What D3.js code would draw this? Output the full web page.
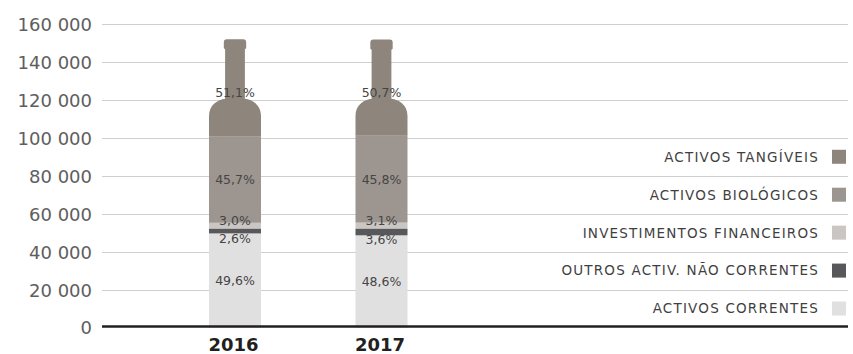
<!DOCTYPE html>
<html>
<head>
<meta charset="utf-8">
<script src="https://cdn.jsdelivr.net/npm/d3@7"></script>
<style>
  html, body { margin: 0; padding: 0; background: #fff; }
  svg { display: block; }
</style>
</head>
<body>
<svg id="chart" width="853" height="354"></svg>
<script>
// Asset structure per year (thousand €), stacked bottom to top
const years = ["2016", "2017"];
const activosCorrentes        = [49600, 48600];
const outrosNaoCorrentes      = [2600, 3600];
const investimentosFinanceiros = [3000, 3100];
const activosBiologicos       = [45700, 45800];
const activosTangiveis        = [51100, 50700];

// Percent labels shown on each segment
const pctCorrentes   = ["49,6%", "48,6%"];
const pctOutros      = ["2,6%", "3,6%"];
const pctInvest      = ["3,0%", "3,1%"];
const pctBiologicos  = ["45,7%", "45,8%"];
const pctTangiveis   = ["51,1%", "50,7%"];

const yTicks = [0, 20000, 40000, 60000, 80000, 100000, 120000, 140000, 160000];

const seriesNames = ["ACTIVOS CORRENTES", "OUTROS ACTIV. NÃO CORRENTES", "INVESTIMENTOS FINANCEIROS", "ACTIVOS BIOLÓGICOS", "ACTIVOS TANGÍVEIS"];
const seriesKeys = ["correntes", "outros", "invest", "biologicos", "tangiveis"];
const seriesColors = ["#e1e0e0", "#58585a", "#cac6c3", "#9d958f", "#8e857c"];

const rows = years.map((yr, i) => ({
  year: yr,
  correntes: activosCorrentes[i],
  outros: outrosNaoCorrentes[i],
  invest: investimentosFinanceiros[i],
  biologicos: activosBiologicos[i],
  tangiveis: activosTangiveis[i]
}));
const labels = {
  correntes: pctCorrentes, outros: pctOutros, invest: pctInvest,
  biologicos: pctBiologicos, tangiveis: pctTangiveis
};

const svg = d3.select("#chart");
const plotLeft = 102, plotRight = 848;
const font = "'DejaVu Sans', sans-serif";

const y = d3.scaleLinear().domain([0, 160000]).range([327.5, 24]);
const x = d3.scalePoint().domain(years).range([235, 381.5]);
const barW = 52;

// Gridlines
svg.append("g").selectAll("line")
  .data(yTicks.filter(t => t > 0))
  .join("line")
  .attr("x1", plotLeft).attr("x2", plotRight)
  .attr("y1", d => Math.round(y(d)) + 0.5).attr("y2", d => Math.round(y(d)) + 0.5)
  .attr("stroke", "#cfcfcf").attr("stroke-width", 1);

// Y axis labels
const yAxis = d3.axisLeft(y).tickValues(yTicks).tickSize(0).tickPadding(0)
  .tickFormat(d => d3.format(",")(d).replace(/,/g, " "));
const gy = svg.append("g").attr("transform", `translate(${92},0)`).call(yAxis);
gy.select(".domain").remove();
gy.selectAll("text")
  .attr("font-family", font).attr("font-size", 18)
  .attr("fill", "#5e5e5e").attr("dy", "0.36em");

// Stacked segments
const stack = d3.stack().keys(seriesKeys);
const layers = stack(rows);

// Top segment drawn as a wine bottle: body, shoulder, neck and lip
function bottlePath(d) {
  const cx = x(d.data.year);
  const x0 = cx - barW / 2, x1 = cx + barW / 2;
  const yB = y(d[0]), yT = y(d[1]);
  const h = yB - yT;
  const yS = yB - 0.205 * h;   // shoulder start
  const yN = yB - 0.385 * h;   // neck start
  const yL = yT + 0.105 * h;   // lip bottom
  const nw = barW * 0.19;      // neck half-width
  const lw = barW * 0.215;     // lip half-width
  const r = 3;
  const sd = yS - yN;
  return [
    `M${x0},${yB}`,
    `L${x0},${yS}`,
    `C${x0},${yS - 0.67 * sd} ${x0 + 0.55 * (cx - nw - x0)},${yN + 1} ${cx - nw},${yN}`,
    `L${cx - nw},${yL}`,
    `L${cx - lw},${yL - 1}`,
    `L${cx - lw},${yT + r}`,
    `Q${cx - lw},${yT} ${cx - lw + r},${yT}`,
    `L${cx + lw - r},${yT}`,
    `Q${cx + lw},${yT} ${cx + lw},${yT + r}`,
    `L${cx + lw},${yL - 1}`,
    `L${cx + nw},${yL}`,
    `L${cx + nw},${yN}`,
    `C${x1 - 0.55 * (x1 - cx - nw)},${yN + 1} ${x1},${yS - 0.67 * sd} ${x1},${yS}`,
    `L${x1},${yB}`,
    "Z"
  ].join(" ");
}

layers.forEach((layer, li) => {
  const g = svg.append("g");
  if (layer.key === "tangiveis") {
    g.selectAll("path").data(layer).join("path")
      .attr("d", bottlePath)
      .attr("fill", seriesColors[li]);
  } else {
    g.selectAll("rect").data(layer).join("rect")
      .attr("x", d => x(d.data.year) - barW / 2)
      .attr("width", barW)
      .attr("y", d => y(d[1]))
      .attr("height", d => y(d[0]) - y(d[1]))
      .attr("fill", seriesColors[li]);
  }
});

// Segment labels
const labelOffset = { correntes: 0, outros: 8, invest: -5, biologicos: 0, tangiveis: 5 };
layers.forEach(layer => {
  svg.append("g").selectAll("text").data(layer).join("text")
    .attr("x", d => x(d.data.year))
    .attr("y", d => (y(d[0]) + y(d[1])) / 2 + labelOffset[layer.key])
    .attr("dy", "0.36em")
    .attr("text-anchor", "middle")
    .attr("font-family", font).attr("font-size", 12.5)
    .attr("fill", "#454545")
    .text((d, i) => labels[layer.key][i]);
});

// Baseline
svg.append("line")
  .attr("x1", plotLeft).attr("x2", plotRight)
  .attr("y1", y(0) - 1).attr("y2", y(0) - 1)
  .attr("stroke", "#231f20").attr("stroke-width", 2.5);

// X axis labels
const xAxis = d3.axisBottom(x).tickSize(0).tickPadding(0);
const gx = svg.append("g").attr("transform", `translate(-2,${y(0) + 17})`).call(xAxis);
gx.select(".domain").remove();
gx.selectAll("text")
  .attr("font-family", font).attr("font-size", 18).attr("font-weight", "bold")
  .attr("fill", "#231f20").attr("dy", "0.36em");

// Legend (top series first), rows centred between gridlines
const legendOrder = [4, 3, 2, 1, 0];
const legendVals = [90000, 70000, 50000, 30000, 10000];
const lg = svg.append("g");
legendOrder.forEach((si, k) => {
  const cy = y(legendVals[k]);
  lg.append("rect")
    .attr("x", 832).attr("y", cy - 7).attr("width", 14).attr("height", 14)
    .attr("fill", seriesColors[si]);
  lg.append("text")
    .attr("x", 819).attr("y", cy).attr("dy", "0.36em")
    .attr("text-anchor", "end")
    .attr("font-family", font).attr("font-size", 13.5)
    .attr("letter-spacing", 1.2)
    .attr("fill", "#3f3f3f")
    .text(seriesNames[si]);
});
</script>
</body>
</html>
